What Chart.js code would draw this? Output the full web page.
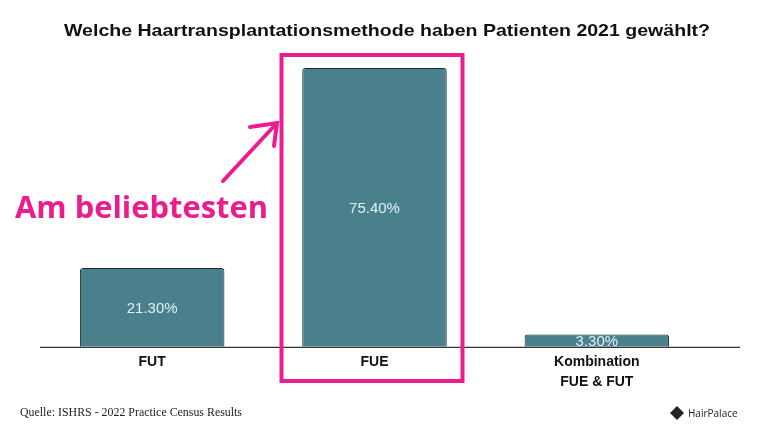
<!DOCTYPE html>
<html>
<head>
<meta charset="utf-8">
<script src="https://cdn.jsdelivr.net/npm/chart.js@4"></script>
<style>
  html, body { margin: 0; padding: 0; background: #fff; }
  #wrap { width: 768px; height: 437px; }
</style>
</head>
<body>
<div id="wrap"><canvas id="grafico" width="768" height="437"></canvas></div>
<script>
var kategorien = [['FUT'], ['FUE'], ['Kombination', 'FUE & FUT']];
var anteile = [21.3, 75.4, 3.3];
var beschriftung = ['21.30%', '75.40%', '3.30%'];
var titel = 'Welche Haartransplantationsmethode haben Patienten 2021 gewählt?';
var quelle = 'Quelle: ISHRS - 2022 Practice Census Results';
var markierung = 'Am beliebtesten';
var pink = '#e91e8c';

// zeichnet Titel, Werte, Achse, Markierung und Fussnote
var extras = {
  id: 'extras',
  afterDatasetsDraw: function (chart) {
    var ctx = chart.ctx;
    var area = chart.chartArea;
    var meta = chart.getDatasetMeta(0);
    ctx.save();

    // Titel (im Original etwas breit gezogen)
    ctx.save();
    ctx.fillStyle = '#111';
    ctx.font = 'bold 17px "Liberation Sans", Arial, sans-serif';
    ctx.textAlign = 'center';
    ctx.textBaseline = 'middle';
    ctx.translate(387, 31);
    ctx.scale(1.15, 1);
    ctx.fillText(titel, 0, 0);
    ctx.restore();

    // Achsenlinie
    ctx.strokeStyle = '#000';
    ctx.lineWidth = 1;
    ctx.beginPath();
    ctx.moveTo(area.left - 1, area.bottom + 0.5);
    ctx.lineTo(740, area.bottom + 0.5);
    ctx.stroke();

    // Werte in den Balken
    ctx.fillStyle = '#dff3f7';
    ctx.textAlign = 'center';
    ctx.textBaseline = 'middle';
    ctx.font = '15px "Liberation Sans", Arial, sans-serif';
    meta.data.forEach(function (bar, i) {
      ctx.fillText(beschriftung[i], bar.x, (bar.y + bar.base) / 2 + 1);
    });

    // pinker Rahmen um FUE
    var fue = meta.data[1];
    ctx.strokeStyle = pink;
    ctx.lineWidth = 4;
    ctx.strokeRect(fue.x - 93, 55, 181, 326);

    // Pfeil
    ctx.lineCap = 'round';
    ctx.lineWidth = 4;
    ctx.beginPath();
    ctx.moveTo(223, 181);
    ctx.lineTo(277, 123);
    ctx.moveTo(250, 127);
    ctx.lineTo(277, 123);
    ctx.lineTo(274, 146);
    ctx.stroke();

    // Text "Am beliebtesten"
    ctx.fillStyle = pink;
    ctx.font = 'bold 31px "Open Sans", "Noto Sans", sans-serif';
    ctx.textAlign = 'left';
    ctx.textBaseline = 'alphabetic';
    ctx.fillText(markierung, 15, 218, 253);

    // Quelle
    ctx.fillStyle = '#222';
    ctx.font = '12px "Liberation Serif", "Times New Roman", serif';
    ctx.fillText(quelle, 20, 416, 222);

    // Logo
    ctx.fillStyle = '#222';
    ctx.beginPath();
    ctx.moveTo(677, 406);
    ctx.lineTo(684, 413);
    ctx.lineTo(677, 420);
    ctx.lineTo(670, 413);
    ctx.closePath();
    ctx.fill();
    ctx.font = '10px "Open Sans", sans-serif';
    ctx.fillText('HairPalace', 688, 417);

    ctx.restore();
  }
};

new Chart(document.getElementById('grafico').getContext('2d'), {
  type: 'bar',
  data: {
    labels: kategorien,
    datasets: [{
      data: anteile,
      backgroundColor: '#4a7f8c',
      borderColor: '#1c2a2e',
      borderWidth: 1,
      borderRadius: 3,
      borderSkipped: 'bottom',
      barPercentage: 0.65,
      categoryPercentage: 1
    }]
  },
  options: {
    responsive: false,
    animation: false,
    layout: { padding: { left: 41, right: 60, top: 51, bottom: 47 } },
    plugins: {
      legend: { display: false },
      tooltip: { enabled: false }
    },
    scales: {
      y: { display: false, min: 0, max: 80 },
      x: {
        grid: { display: false },
        border: { display: false },
        ticks: {
          color: '#111',
          padding: -2,
          font: { family: '"Liberation Sans", Arial, sans-serif', size: 14, weight: 'bold', lineHeight: 1.4 }
        }
      }
    }
  },
  plugins: [extras]
});
</script>
</body>
</html>
